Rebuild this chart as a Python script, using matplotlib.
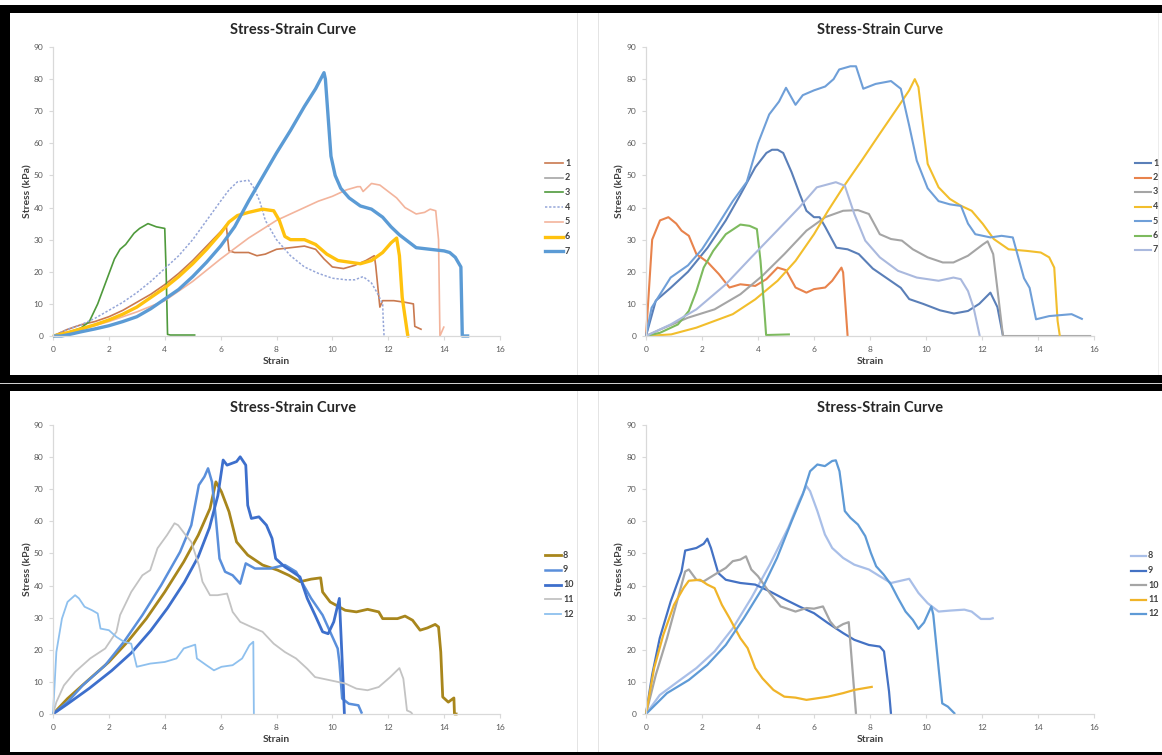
import matplotlib
matplotlib.use('Agg')
import matplotlib.pyplot as plt
from matplotlib.patches import Rectangle
from matplotlib.lines import Line2D

plt.rcParams['font.family'] = ['Lato', 'DejaVu Sans']

# ---------------- DATA ----------------
X_TICKS = [0, 2, 4, 6, 8, 10, 12, 14, 16]
Y_TICKS = [0, 10, 20, 30, 40, 50, 60, 70, 80, 90]
TITLE = 'Stress-Strain Curve'
X_LABEL = 'Strain'
Y_LABEL = 'Stress (kPa)'

# --- Top-left panel, samples 1-7 ---
TL_LABELS = ['1', '2', '3', '4', '5', '6', '7']
TL1_X = [0, 0.5, 1, 1.5, 2, 2.5, 3, 3.5, 4, 4.5, 5, 5.5, 6, 6.2, 6.3, 6.5, 7, 7.3, 7.6, 8, 8.5, 9, 9.4, 9.7,
         10, 10.4, 10.8, 11.2, 11.5, 11.55, 11.7, 11.8, 12.2, 12.6, 12.9, 12.95, 13.2]
TL1_Y = [0, 2, 3.5, 4.5, 6, 8, 10.5, 13, 16, 19.5, 23.5, 28, 32.5, 34.5, 26.5, 26, 26, 25, 25.5, 27, 27.5, 28, 27, 24,
         21.5, 21, 22, 23.5, 25, 22, 9, 11, 11, 10.5, 10, 3, 2]
TL2_X = [0, 0.4]
TL2_Y = [0, 0.3]
TL3_X = [0, 0.5, 1, 1.3, 1.6, 1.9, 2.2, 2.4, 2.6, 2.9, 3.1, 3.4, 3.7, 4.0, 4.05, 4.1, 4.2, 5.1]
TL3_Y = [0, 1, 2.5, 4.5, 10, 17, 24, 27, 28.5, 32, 33.5, 35, 34, 33.5, 20, 0.5, 0.3, 0.3]
TL4_X = [0, 0.5, 1, 1.5, 2, 2.5, 3, 3.5, 4, 4.5, 5, 5.5, 6, 6.3, 6.6, 7, 7.2, 7.4, 7.6, 8, 8.5, 9, 9.5, 10,
         10.5, 10.8, 11.1, 11.4, 11.6, 11.8, 11.82, 11.85]
TL4_Y = [0, 2, 3.5, 5.5, 8, 10.5, 13.5, 17, 21, 25, 30, 36, 42, 45.5, 48, 48.5, 46, 42, 36, 30, 25, 21.5, 19.5, 18,
         17.5, 17.5, 18.5, 16.5, 13.5, 10, 5, 0]
TL5_X = [0, 1, 2, 3, 4, 5, 6, 7, 8, 9, 9.5, 10, 10.5, 10.9, 11.0, 11.1, 11.4, 11.7, 12, 12.3, 12.6, 13, 13.3,
         13.5, 13.7, 13.8, 13.85, 14.0]
TL5_Y = [0, 2, 4.5, 7.5, 11, 17, 24, 30.5, 36, 40, 42, 43.5, 45.5, 46.5, 46.5, 45, 47.5, 47, 45, 43, 40, 38, 38.5,
         39.5, 39, 30, 0, 3]
TL6_X = [0, 0.5, 1, 1.5, 2, 2.5, 3, 3.5, 4, 4.5, 5, 5.5, 6, 6.3, 6.6, 7, 7.5, 7.9, 8.1, 8.3, 8.5, 9, 9.4, 9.8,
         10.2, 10.6, 11, 11.4, 11.8, 12.1, 12.3, 12.4, 12.5, 12.6, 12.7, 12.75]
TL6_Y = [0, 1, 2.2, 3.5, 5, 6.8, 9, 12, 15, 18.5, 22.5, 27, 32, 35.5, 37.5, 38.5, 39.5, 39, 36, 31, 30, 30, 28.5,
         25.5, 23.5, 23, 22.5, 23.5, 26, 29, 30.5, 25, 12, 6, 0, 0]
TL7_X = [0, 0.3, 0.6, 1, 1.5, 2, 2.5, 3, 3.5, 4, 4.5, 5, 5.5, 6, 6.5, 7, 7.5, 8, 8.5, 9, 9.4, 9.7, 9.75, 9.85,
         9.95, 10.1, 10.3, 10.6, 11, 11.4, 11.8, 12.1, 12.4, 12.7, 13, 13.5, 14, 14.2, 14.4, 14.6, 14.65, 14.9]
TL7_Y = [0, 0, 0.5, 1.3, 2.2, 3.2, 4.5, 6, 8.5, 11.5, 14.5, 18.5, 23, 28, 34, 42, 49.5, 57, 64, 71.5, 77, 82, 80,
         68, 56, 50, 46, 43, 40.5, 39.5, 37, 34, 31.5, 29.5, 27.5, 27, 26.5, 26, 24.5, 21.5, 0, 0]

# --- Top-right panel, samples 1-7 ---
TR_LABELS = ['1', '2', '3', '4', '5', '6', '7']
TR1_X = [0, 0.35, 0.88, 1.5, 2.2, 2.85, 3.37, 3.9, 4.3, 4.5, 4.7, 4.9, 5.2, 5.5, 5.73, 6.0, 6.2, 6.4, 6.8, 7.2,
         7.6, 8.1, 8.6, 9.1, 9.4, 9.9, 10.5, 11.0, 11.5, 11.9, 12.3, 12.55, 12.75]
TR1_Y = [0, 11, 15, 20, 27.5, 36, 44, 52.5, 57, 58, 58, 57, 51, 44, 39, 37, 37, 34, 27.5, 27, 25.5, 21, 18, 15,
         11.5, 10, 8, 7, 7.8, 10, 13.5, 9, 0]
TR2_X = [0, 0.22, 0.5, 0.8, 1.08, 1.27, 1.53, 1.8, 2.2, 2.6, 2.98, 3.37, 3.9, 4.3, 4.7, 5.0, 5.34, 5.73, 6.0,
         6.4, 6.65, 6.98, 7.04, 7.2]
TR2_Y = [0, 30, 36, 37, 35, 32.8, 31.2, 25.5, 23, 19.3, 15.1, 16.1, 15.6, 17.7, 21.3, 20.5, 15.1, 13.5, 14.6,
         15.1, 17.2, 21.3, 19.8, 0]
TR3_X = [0, 0.5, 1.5, 2.45, 3.37, 4.15, 4.94, 5.73, 6.4, 7.04, 7.57, 7.96, 8.35, 8.75, 9.14, 9.53, 10.06, 10.6,
         10.98, 11.5, 12.03, 12.2, 12.4, 12.6, 12.75, 14.0, 15.9]
TR3_Y = [0, 2, 5.7, 8.3, 13, 18.7, 25.5, 32.8, 37, 39, 39.2, 38, 31.7, 30.2, 29.7, 27, 24.5, 22.9, 22.9, 25,
         28.5, 29.5, 25.5, 11, 0, 0, 0]
TR4_X = [0, 0.9, 1.8, 3.1, 3.9, 4.7, 5.34, 6.0, 6.5, 7.04, 7.7, 8.35, 9.0, 9.4, 9.6, 9.73, 9.93, 10.06, 10.45,
         10.85, 11.24, 11.63, 12.03, 12.42, 12.95, 13.6, 14.1, 14.4, 14.58, 14.7, 14.78]
TR4_Y = [0, 0.5, 2.6, 6.8, 11.4, 17.2, 23.4, 31.7, 39, 46.3, 54.6, 63, 71.3, 76.5, 80, 77.5, 63, 53.6, 46.3,
         42.7, 40.6, 39, 34.9, 30.2, 27, 26.5, 26, 24.5, 21.3, 4.7, 0]
TR5_X = [0, 0.2, 0.88, 1.5, 2.0, 2.45, 3.1, 3.6, 4.0, 4.4, 4.75, 5.0, 5.34, 5.6, 6.0, 6.4, 6.7, 6.9, 7.3, 7.5,
         7.76, 8.2, 8.75, 9.1, 9.4, 9.67, 10.06, 10.45, 10.85, 11.25, 11.5, 11.76, 12.3, 12.7, 13.1, 13.5,
         13.7, 13.93, 14.4, 15.2, 15.6]
TR5_Y = [0, 8.8, 18.2, 22, 27, 33, 42, 48, 60, 69, 73, 77.3, 72, 75, 76.5, 77.7, 80, 83, 84, 84, 77, 78.5, 79.4,
         77, 65.5, 54.6, 46, 42, 41, 40.5, 35, 31.7, 30.7, 31.2, 30.7, 18, 15, 5.2, 6.2, 6.8, 5.2]
TR6_X = [0, 0.5, 1.14, 1.53, 1.8, 2.06, 2.4, 2.85, 3.37, 3.7, 3.96, 4.09, 4.22, 4.29, 5.14]
TR6_Y = [0, 1, 3.6, 7.8, 14, 21.3, 26.5, 31.7, 34.7, 34.3, 33.3, 23.4, 8.8, 0.3, 0.5]
TR7_X = [0, 0.88, 1.8, 2.85, 3.76, 4.68, 5.47, 6.1, 6.78, 7.1, 7.44, 7.83, 8.35, 9.0, 9.67, 10.45, 10.98, 11.24,
         11.5, 11.7, 11.92]
TR7_Y = [0, 3.6, 8.3, 16.1, 24.5, 32.8, 40, 46.3, 47.9, 46.8, 38, 29.7, 24.5, 20.3, 18.2, 17.2, 18.2, 17.7, 14,
         8.8, 0]

# --- Bottom-left panel, samples 8-12 ---
BL_LABELS = ['8', '9', '10', '11', '12']
BL8_X = [0, 0.52, 1.19, 2.0, 2.67, 3.34, 4.0, 4.68, 5.2, 5.62, 5.83, 6.03, 6.3, 6.57, 6.97, 7.5, 8.04, 8.44,
         8.84, 9.24, 9.58, 9.65, 9.92, 10.46, 10.86, 11.26, 11.66, 11.8, 12.33, 12.6, 12.87, 13.14, 13.4, 13.68,
         13.8, 13.88, 13.95, 14.15, 14.35, 14.37, 14.48]
BL8_Y = [0, 4.8, 10, 16.2, 22.5, 29.7, 38, 47.4, 55.7, 64, 72.3, 69.2, 63, 53.6, 49.5, 46.4, 44.8, 43.2, 41.2,
         42, 42.4, 38, 34.9, 32.3, 31.8, 32.6, 31.8, 29.7, 29.7, 30.5, 29.2, 26.1, 26.8, 27.9, 27.1, 19.3, 5.3,
         3.7, 5, 0, 0]
BL9_X = [0, 0.52, 1.06, 1.87, 2.54, 3.2, 3.87, 4.55, 4.95, 5.22, 5.42, 5.55, 5.69, 5.83, 5.96, 6.16, 6.43, 6.7,
         6.9, 7.23, 7.77, 8.3, 8.7, 8.97, 9.24, 9.65, 9.92, 10.19, 10.25, 10.35, 10.59, 10.93, 11.06]
BL9_Y = [0, 3.7, 8.9, 15.2, 22.5, 30.8, 40.1, 50.5, 58.8, 71.3, 73.9, 76.5, 72.3, 60.9, 48.4, 44.3, 43.2, 40.6,
         46.9, 45.3, 45.3, 46.4, 44.3, 40.1, 36, 30.8, 25.6, 20.4, 16.2, 4.8, 3.2, 2.7, 0.1]
BL10_X = [0, 0.5, 1.3, 2.1, 2.8, 3.5, 4.1, 4.7, 5.2, 5.6, 5.9, 6.09, 6.23, 6.57, 6.7, 6.9, 6.97, 7.1,
          7.37, 7.64, 7.84, 7.97, 8.3, 8.57, 8.84, 9.1, 9.38, 9.65, 9.85, 10.05, 10.25, 10.39, 10.43]
BL10_Y = [0, 3, 8, 13.5, 19, 26, 33, 41, 49, 58, 68, 79.1, 77.5, 78.6, 80.1, 77.5, 65, 60.9, 61.4,
          58.8, 54.7, 48.4, 45.8, 44.3, 42.7, 36, 30.8, 25.6, 25, 28.7, 36, 9, 0]
BL11_X = [0, 0.12, 0.39, 0.79, 1.33, 1.87, 2.27, 2.4, 2.8, 3.2, 3.48, 3.74, 4.08, 4.35, 4.48, 4.75, 4.95, 5.22,
          5.35, 5.62, 5.89, 6.23, 6.43, 6.7, 7.1, 7.5, 7.9, 8.3, 8.7, 9.1, 9.38, 9.92, 10.46, 10.86, 11.26,
          11.66, 12.07, 12.4, 12.54, 12.67, 12.8, 12.87]
BL11_Y = [0, 3.7, 8.9, 13.1, 17.3, 20.4, 25.6, 30.8, 38, 43.2, 44.8, 51.6, 55.7, 59.4, 58.8, 55.7, 53.6, 46.4,
          41.2, 37, 37, 37.5, 31.8, 28.7, 27.1, 25.6, 21.9, 19.3, 17.3, 14.1, 11.5, 10.5, 9.5, 7.9, 7.4, 8.4,
          11.5, 14.3, 11, 1.1, 0.6, 0]
BL12_X = [0, 0.12, 0.32, 0.52, 0.79, 0.93, 1.13, 1.4, 1.6, 1.7, 2.0, 2.27, 2.54, 2.8, 3.0, 3.48, 4.0, 4.42, 4.68,
          5.09, 5.15, 5.49, 5.76, 6.03, 6.43, 6.77, 7.03, 7.17, 7.19]
BL12_Y = [0, 19.3, 29.7, 34.9, 37, 36, 33.4, 32.3, 31.3, 26.6, 26.1, 24, 22.5, 21.9, 14.7, 15.7, 16.2, 17.3,
          20.4, 21.6, 17.3, 15.2, 13.6, 14.7, 15.2, 17.3, 21.4, 22.5, 0]

# --- Bottom-right panel, samples 8-12 ---
BR_LABELS = ['8', '9', '10', '11', '12']
BR8_X = [0, 0.49, 1.14, 1.8, 2.45, 3.1, 3.76, 4.42, 5.08, 5.47, 5.73, 5.86, 6.12, 6.39, 6.65, 7.04, 7.44, 7.96,
         8.35, 8.75, 9.0, 9.4, 9.73, 10.06, 10.45, 10.85, 11.37, 11.63, 11.96, 12.29, 12.42]
BR8_Y = [0, 5.9, 10.1, 14.3, 19.5, 26.7, 36.1, 46.5, 58, 66.3, 71, 69.4, 63.2, 55.9, 51.7, 48.6, 46.5, 45, 42.9,
         40.8, 41.3, 42.1, 37.7, 34.5, 31.9, 32.2, 32.5, 31.9, 29.6, 29.6, 29.9]
BR9_X = [0, 0.22, 0.49, 0.88, 1.27, 1.4, 1.8, 2.06, 2.19, 2.32, 2.58, 2.85, 3.37, 3.9, 4.42, 4.94, 5.47, 6.0,
         6.5, 7.04, 7.44, 7.96, 8.35, 8.5, 8.68, 8.75]
BR9_Y = [0, 12.2, 23.6, 35, 44.4, 50.9, 51.7, 53, 54.6, 51.7, 43.9, 41.8, 40.8, 40.3, 38.2, 35.8, 33.5, 31.4,
         28.3, 25.2, 23.1, 21.5, 21, 19.5, 7, 0]
BR10_X = [0, 0.35, 0.75, 1.14, 1.4, 1.53, 1.8, 2.06, 2.45, 2.85, 3.1, 3.37, 3.57, 3.76, 4.0, 4.42, 4.81, 5.34,
          5.73, 6.0, 6.32, 6.58, 6.78, 7.04, 7.24, 7.37, 7.5]
BR10_Y = [0, 12.2, 23.6, 36.1, 44.4, 45, 41.8, 41.3, 43.4, 45.5, 47.6, 48.1, 49.1, 45, 42.9, 37.7, 33.5, 31.9,
          33, 32.8, 33.5, 28.8, 26.7, 28, 28.6, 14.3, 0]
BR11_X = [0, 0.29, 0.62, 1.0, 1.34, 1.53, 1.93, 2.19, 2.45, 2.71, 2.98, 3.37, 3.63, 3.9, 4.16, 4.55, 4.94, 5.34,
          5.73, 6.12, 6.5, 7.04, 7.44, 8.1]
BR11_Y = [0, 14.3, 24.7, 34, 39.2, 41.5, 41.8, 40.3, 39.2, 34, 29.9, 23.6, 20.5, 14.3, 11.1, 7.5, 5.4, 5.1, 4.4,
          4.9, 5.4, 6.5, 7.5, 8.5]
BR12_X = [0, 0.75, 1.53, 2.19, 2.85, 3.5, 4.16, 4.68, 5.2, 5.6, 5.86, 6.12, 6.39, 6.65, 6.78, 6.91, 7.1, 7.3,
          7.57, 7.83, 8.03, 8.22, 8.49, 8.75, 9.0, 9.27, 9.53, 9.73, 9.93, 10.19, 10.26, 10.45, 10.58, 10.78,
          11.04]
BR12_Y = [0, 6.5, 10.6, 15.3, 21.5, 29.9, 39.2, 48.6, 60, 68.4, 75.6, 77.7, 77.2, 78.8, 79, 75.6, 63.2, 61.1,
          59, 55.4, 50.2, 46, 43.4, 40.3, 36.1, 31.9, 29.3, 26.5, 28.5, 33.5, 30.9, 14.3, 3.3, 2.3, 0]

# ---------------- STYLE ----------------
W, H = 1162, 755
fig = plt.figure(figsize=(W / 100, H / 100), dpi=100)
fig.patch.set_facecolor('white')

def fx(px):
    return px / W

def fy(py):
    return 1 - py / H

# frame decorations (screenshot collage borders)
def rect(x0, y0, x1, y1, color):
    fig.add_artist(Rectangle((fx(x0), fy(y1)), fx(x1) - fx(x0), fy(y0) - fy(y1),
                             transform=fig.transFigure, facecolor=color, edgecolor='none', zorder=0))

rect(0, 5, W, 13, 'black')
rect(0, 5, 10, H, 'black')
rect(0, 375, W, 391, 'black')
rect(0, 752, W, H, 'black')
rect(0, 383, W, 384.3, '#d0d0d0')
for xx in (577, 598):
    rect(xx, 13, xx + 1.2, 375, '#e4e4e4')
    rect(xx, 391, xx + 1.2, 752, '#e4e4e4')
rect(1158, 13, 1159, 375, '#ececec')

TICK_COLOR = '#595959'
AXIS_COLOR = '#d9d9d9'

def make_panel(l, t, r, b, series, legend_pos, title_cx, ylab_x):
    ax = fig.add_axes([fx(l), fy(b), fx(r) - fx(l), fy(t) - fy(b)])
    ax.set_xlim(0, 16)
    ax.set_ylim(0, 90)
    ax.set_xticks(X_TICKS)
    ax.set_yticks(Y_TICKS)
    for s in ('top', 'right'):
        ax.spines[s].set_visible(False)
    for s in ('left', 'bottom'):
        ax.spines[s].set_color(AXIS_COLOR)
        ax.spines[s].set_linewidth(0.9)
    ax.tick_params(axis='both', labelsize=6, labelcolor=TICK_COLOR, color=AXIS_COLOR,
                   length=3, width=0.8)
    ax.tick_params(axis='x', pad=4)
    ax.tick_params(axis='y', pad=4)
    ax.patch.set_alpha(0)
    for (xs, ys, lab, col, lw, ls) in series:
        ax.plot(xs, ys, color=col, lw=lw, ls=ls, solid_joinstyle='round', solid_capstyle='butt',
                clip_on=False)
    # title & axis labels
    fig.text(fx(title_cx), fy(t - 17), TITLE, ha='center', va='center', fontsize=10.5,
             fontweight='bold', color='#262626')
    fig.text(fx((l + r) / 2), fy(b + 25), X_LABEL, ha='center', va='center', fontsize=7.5,
             fontweight='bold', color='#404040')
    fig.text(fx(ylab_x), fy((t + b) / 2), Y_LABEL, ha='center', va='center', fontsize=7.5,
             fontweight='bold', color='#404040', rotation=90)
    # legend (manual, at screenshot positions)
    lx0, lx1, tx, ly0, dy = legend_pos
    for i, (xs, ys, lab, col, lw, ls) in enumerate(series):
        yy = ly0 + dy * i
        fig.add_artist(Line2D([fx(lx0), fx(lx1)], [fy(yy), fy(yy)], transform=fig.transFigure,
                              color=col, lw=lw, ls=ls))
        fig.text(fx(tx), fy(yy), lab, ha='left', va='center', fontsize=6.5,
                 fontweight='bold', color='#404040')
    return ax

tl_series = [
    (TL1_X, TL1_Y, TL_LABELS[0], '#c9794f', 1.2, '-'),
    (TL2_X, TL2_Y, TL_LABELS[1], '#a5a5a5', 1.2, '-'),
    (TL3_X, TL3_Y, TL_LABELS[2], '#4f9a3c', 1.2, '-'),
    (TL4_X, TL4_Y, TL_LABELS[3], '#95a6d8', 1.1, (0, (1.5, 1.2))),
    (TL5_X, TL5_Y, TL_LABELS[4], '#f3b49c', 1.2, '-'),
    (TL6_X, TL6_Y, TL_LABELS[5], '#ffc20e', 2.4, '-'),
    (TL7_X, TL7_Y, TL_LABELS[6], '#5b9bd5', 2.4, '-'),
]
tr_series = [
    (TR1_X, TR1_Y, TR_LABELS[0], '#5a7fb8', 1.5, '-'),
    (TR2_X, TR2_Y, TR_LABELS[1], '#e8834c', 1.5, '-'),
    (TR3_X, TR3_Y, TR_LABELS[2], '#a5a5a5', 1.5, '-'),
    (TR4_X, TR4_Y, TR_LABELS[3], '#f2be2c', 1.5, '-'),
    (TR5_X, TR5_Y, TR_LABELS[4], '#6f9fd8', 1.5, '-'),
    (TR6_X, TR6_Y, TR_LABELS[5], '#7dba5e', 1.5, '-'),
    (TR7_X, TR7_Y, TR_LABELS[6], '#aab9de', 1.5, '-'),
]
bl_series = [
    (BL8_X, BL8_Y, BL_LABELS[0], '#a8861c', 2.0, '-'),
    (BL9_X, BL9_Y, BL_LABELS[1], '#5a8fdb', 1.8, '-'),
    (BL10_X, BL10_Y, BL_LABELS[2], '#3d6fcc', 2.0, '-'),
    (BL11_X, BL11_Y, BL_LABELS[3], '#c3c3c3', 1.3, '-'),
    (BL12_X, BL12_Y, BL_LABELS[4], '#8ec0ee', 1.3, '-'),
]
br_series = [
    (BR8_X, BR8_Y, BR_LABELS[0], '#a9bfe8', 1.6, '-'),
    (BR9_X, BR9_Y, BR_LABELS[1], '#4472c4', 1.6, '-'),
    (BR10_X, BR10_Y, BR_LABELS[2], '#a5a5a5', 1.6, '-'),
    (BR11_X, BR11_Y, BR_LABELS[3], '#f0b429', 1.6, '-'),
    (BR12_X, BR12_Y, BR_LABELS[4], '#5e9ad6', 1.6, '-'),
]

make_panel(53, 47, 500, 336, tl_series, (545, 563, 565, 163, 14.7), 293, 28)
make_panel(646, 47, 1094, 336, tr_series, (1135, 1151, 1153, 163, 14.5), 880, 620)
make_panel(53, 425, 500, 714, bl_series, (545, 561, 563, 555, 14.8), 293, 28)
make_panel(646, 425, 1094, 714, br_series, (1131, 1146, 1148, 556, 14.5), 880, 620)

fig.savefig('out.png', dpi=100, facecolor='white')
